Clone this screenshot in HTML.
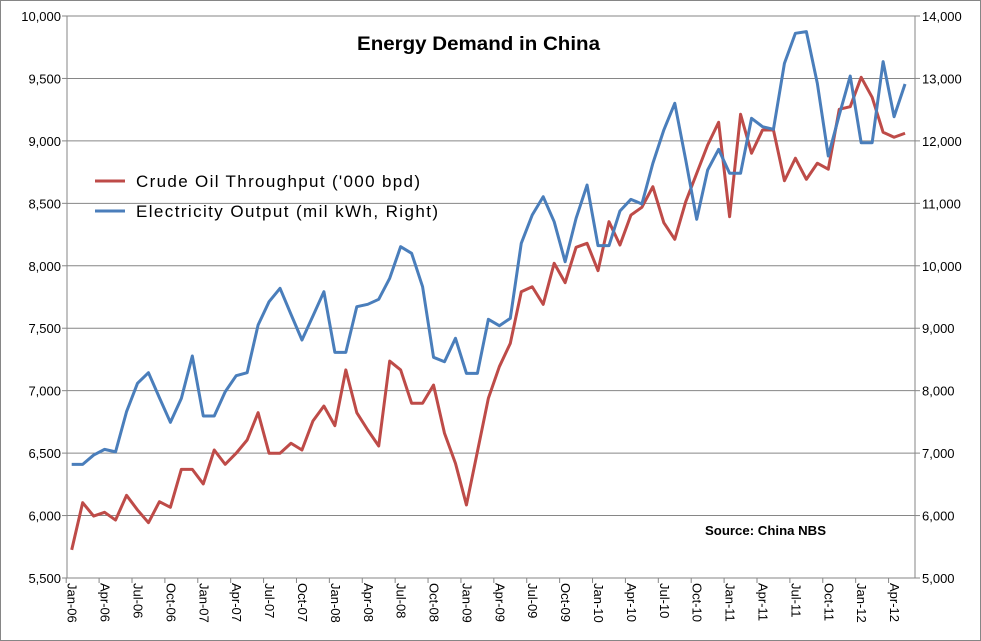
<!DOCTYPE html>
<html><head><meta charset="utf-8"><style>
body{margin:0;background:#fff}
svg{display:block;font-family:"Liberation Sans",Arial,sans-serif}
</style></head><body>
<svg id="chart" width="981" height="641">
<rect x="0.5" y="0.5" width="980" height="640" fill="#fff" stroke="#868686"/>
<g id="grid"></g><g id="axes"></g><g id="series"></g>
<text x="357" y="50" textLength="243" lengthAdjust="spacingAndGlyphs" font-size="19" font-weight="bold" fill="#000">Energy Demand in China</text>
<g>
<line x1="95" y1="181" x2="125" y2="181" stroke="#be4b48" stroke-width="3"/>
<text x="136" y="187" textLength="284" lengthAdjust="spacing" font-size="17" fill="#000">Crude Oil Throughput ('000 bpd)</text>
<line x1="95" y1="211" x2="125" y2="211" stroke="#4a7ebb" stroke-width="3"/>
<text x="136" y="217" textLength="302" lengthAdjust="spacing" font-size="17" fill="#000">Electricity Output (mil kWh, Right)</text>
</g>
<text x="705" y="535" textLength="121" lengthAdjust="spacingAndGlyphs" font-size="13" font-weight="bold" fill="#000">Source: China NBS</text>
</svg>
<script>
const months=["Jan","Feb","Mar","Apr","May","Jun","Jul","Aug","Sep","Oct","Nov","Dec"];
const categories=[];for(let i=0;i<77;i++){categories.push(months[i%12]+"-"+String(6+Math.floor(i/12)).padStart(2,"0"));}
const leftTicks=[5500,6000,6500,7000,7500,8000,8500,9000,9500,10000];
const rightTicks=[5000,6000,7000,8000,9000,10000,11000,12000,13000,14000];
const crudeOil=[5725,6103,5996,6026,5964,6162,6045,5943,6111,6066,6370,6370,6253,6525,6410,6499,6605,6824,6499,6499,6579,6525,6757,6877,6720,7166,6824,6685,6557,7237,7166,6899,6899,7045,6659,6418,6085,6511,6939,7192,7379,7792,7832,7691,8020,7865,8148,8180,7961,8353,8166,8406,8468,8633,8345,8212,8513,8740,8967,9149,8393,9213,8901,9087,9087,8681,8861,8692,8821,8773,9253,9274,9509,9349,9069,9029,9061];
const electricity=[6820,6820,6969,7060,7020,7663,8118,8288,7887,7493,7877,8555,7594,7594,7983,8240,8288,9052,9425,9639,9222,8811,9195,9585,8614,8614,9345,9383,9463,9800,10306,10200,9665,8534,8463,8839,8277,8277,9143,9040,9158,10360,10813,11106,10706,10065,10760,11293,10322,10322,10877,11064,10990,11640,12174,12602,11694,10744,11534,11865,11481,11481,12362,12228,12186,13242,13723,13750,12922,11758,12414,13039,11971,11971,13270,12387,12911];
const NS="http://www.w3.org/2000/svg";
const L=67,R=915,T=16,B=578;
const yL=v=>B-(v-5500)/(10000-5500)*(B-T);
const yR=v=>B-(v-5000)/(14000-5000)*(B-T);
const xC=i=>71.7+i*10.965;
function mk(tag,a,parent){const e=document.createElementNS(NS,tag);for(const k in a)e.setAttribute(k,a[k]);parent.appendChild(e);return e;}
const grid=document.getElementById("grid"),axes=document.getElementById("axes"),series=document.getElementById("series");
leftTicks.forEach((v,k)=>{const y=yL(v);
 if(k>0){const g=mk("line",{x1:L,x2:R,y1:y,y2:y,stroke:"#868686","stroke-width":1},grid);
 
 }
 const tk=mk("line",{x1:L-5,x2:L,y1:y,y2:y,stroke:"#868686"},axes);
 
 
 const t=mk("text",{x:L-6,y:y+5,"text-anchor":"end","font-size":13,fill:"#000"},axes);t.textContent=v.toLocaleString("en-US");
 
 });
rightTicks.forEach(v=>{const y=yR(v);
 const tk=mk("line",{x1:R,x2:R+5,y1:y,y2:y,stroke:"#868686"},axes);
 
 
 const t=mk("text",{x:R+7,y:y+5,"font-size":13,fill:"#000"},axes);t.textContent=v.toLocaleString("en-US");
 
 });
const al=mk("line",{x1:L,x2:L,y1:T,y2:B,stroke:"#868686"},axes);


const ar=mk("line",{x1:R,x2:R,y1:T,y2:B,stroke:"#868686"},axes);


const ab=mk("line",{x1:L,x2:R,y1:B,y2:B,stroke:"#868686"},axes);


categories.forEach((c,i)=>{if(i%3===0){const tx=xC(i)-5.5;
 const tk=mk("line",{x1:tx,x2:tx,y1:B,y2:B+5,stroke:"#868686"},axes);
 
 
 const t=mk("text",{x:0,y:0,"font-size":13,fill:"#000",transform:`translate(${xC(i)-4},${B+5}) rotate(90)`},axes);t.textContent=c;
 
 }});
const p1=mk("polyline",{points:crudeOil.map((v,i)=>xC(i)+","+yL(v)).join(" "),fill:"none",stroke:"#be4b48","stroke-width":3,"stroke-linejoin":"round"},series);


const p2=mk("polyline",{points:electricity.map((v,i)=>xC(i)+","+yR(v)).join(" "),fill:"none",stroke:"#4a7ebb","stroke-width":3,"stroke-linejoin":"round"},series);


</script>
</body></html>
